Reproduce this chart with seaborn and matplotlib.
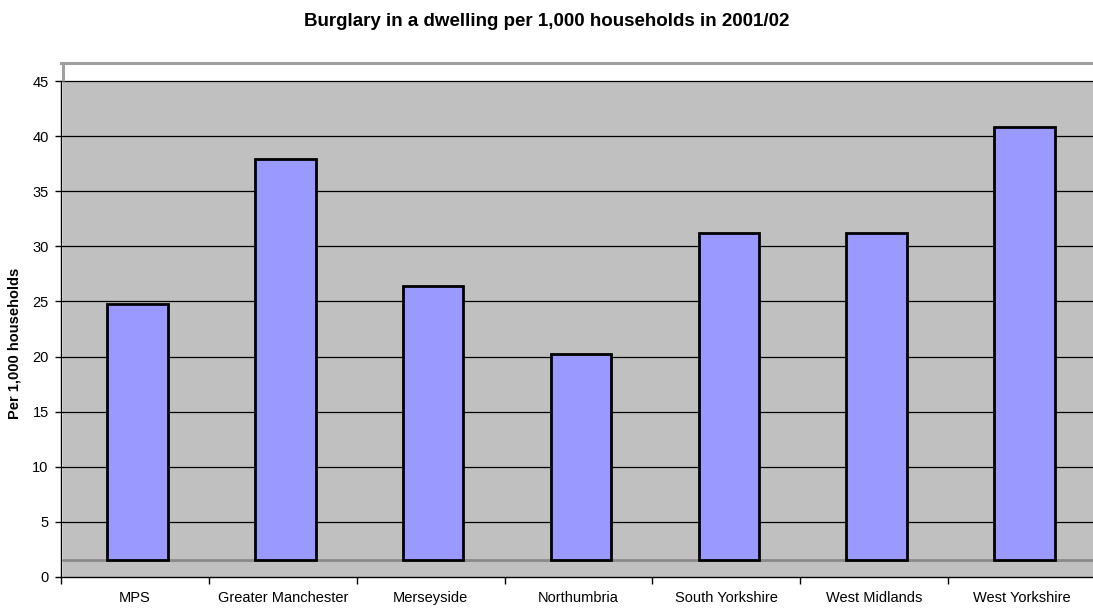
import matplotlib
matplotlib.use("Agg")
import matplotlib.pyplot as plt
import matplotlib.transforms as mtransforms
from matplotlib.patches import Rectangle
import seaborn as sns
import pandas as pd

categories = ["MPS", "Greater Manchester", "Merseyside", "Northumbria",
              "South Yorkshire", "West Midlands", "West Yorkshire"]
values = [24.8, 37.9, 26.4, 20.2, 31.2, 31.2, 40.8]
y_ticks = [0, 5, 10, 15, 20, 25, 30, 35, 40, 45]
title = "Burglary in a dwelling per 1,000 households in 2001/02"
y_label = "Per 1,000 households"

floor_level = 1.55  # 3-D floor offset of the Excel chart

sns.set_theme(style="white")
plt.rcParams['font.family'] = ['Liberation Sans', 'DejaVu Sans']
plt.rcParams['text.color'] = 'black'
plt.rcParams['axes.labelcolor'] = 'black'
plt.rcParams['xtick.color'] = 'black'
plt.rcParams['ytick.color'] = 'black'

df = pd.DataFrame({"area": categories, "value": values})

W, H = 1093, 610
fig = plt.figure(figsize=(W / 100, H / 100), dpi=100)
left_px, right_px, top_px, bottom_px = 61.2, 1095.8, 63, 577
ax = fig.add_axes([left_px / W, (H - bottom_px) / H,
                   (right_px - left_px) / W, (bottom_px - top_px) / H])

sns.barplot(data=df, x="area", y="value", ax=ax, color="#9999ff",
            saturation=1, width=0.41, edgecolor="black", linewidth=2, zorder=3)

ymax = 45 + (81 - top_px) / 11.02
ax.set_ylim(0, ymax)
ax.set_xlim(-0.5, len(categories) - 0.5)
ax.set_facecolor("white")

shift = 2.5 / (right_px - left_px) * len(categories)
for p in ax.patches:
    h = p.get_height()
    p.set_y(floor_level)
    p.set_height(h - floor_level)
    p.set_x(p.get_x() + shift)

# gray wall + floor
trans = mtransforms.blended_transform_factory(ax.transAxes, ax.transData)
x0 = 2 / (right_px - left_px)
ax.add_patch(Rectangle((x0, 0), 1 - x0, 45, transform=trans,
                       facecolor="#c0c0c0", edgecolor="none", zorder=0))

# gridlines
for t in y_ticks[1:]:
    ax.axhline(t, color="black", lw=0.9, zorder=1)
ax.axhline(floor_level, xmin=x0, color="#8a8a8a", lw=2, zorder=2)

# spines
ax.spines["right"].set_visible(False)
ax.spines["top"].set_color("#a0a0a0")
ax.spines["top"].set_linewidth(2.2)
ax.spines["left"].set_color("black")
ax.spines["left"].set_linewidth(1)
ax.spines["left"].set_bounds(0, 45)
ax.spines["bottom"].set_color("black")
ax.spines["bottom"].set_linewidth(1)
ax.vlines(-0.5 + 1.5 / (right_px - left_px) * len(categories), 45, ymax,
          color="#a0a0a0", lw=2.2, zorder=4, clip_on=False)

ax.set_yticks(y_ticks)
ax.set_yticklabels([str(t) for t in y_ticks], fontsize=10.5)
ax.tick_params(axis="y", direction="out", length=4, width=1, color="black",
               pad=5, left=True)
ax.set_xticks(range(len(categories)))
ax.set_xticklabels(categories, fontsize=10.5)
ax.tick_params(axis="x", which="major", length=0, pad=10)
ax.set_xticks([i - 0.5 for i in range(len(categories) + 1)], minor=True)
ax.tick_params(axis="x", which="minor", direction="out", length=5, width=1,
               color="black", bottom=True)

ax.set_xlabel("")
ax.set_ylabel(y_label, fontsize=10.5, fontweight="bold")
ax.yaxis.set_label_coords(-(left_px - 22) / (right_px - left_px),
                          (bottom_px - 343) / (bottom_px - top_px))
fig.text(0.5, 1 - 21 / H, title, ha="center", va="center",
         fontsize=13.5, fontweight="bold")

fig.savefig("out.png", dpi=100)
